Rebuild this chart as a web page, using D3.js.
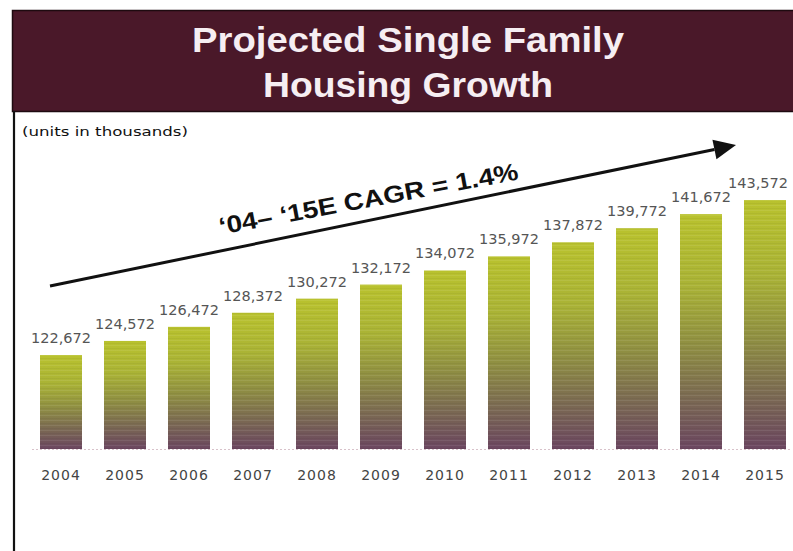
<!DOCTYPE html>
<html>
<head>
<meta charset="utf-8">
<script src="https://cdn.jsdelivr.net/npm/d3@7"></script>
<style>
  html, body { margin: 0; padding: 0; background: #fff; }
  svg { display: block; }
</style>
</head>
<body>
<svg id="chart" width="793" height="551"></svg>
<script>
// Chart data
const years = ["2004","2005","2006","2007","2008","2009","2010","2011","2012","2013","2014","2015"];
const units = [122672,124572,126472,128372,130272,132172,134072,135972,137872,139772,141672,143572];
const titleLines = ["Projected Single Family", "Housing Growth"];
const unitsNote = "(units in thousands)";
const cagrLabel = "\u201804\u2013 \u201815E CAGR = 1.4%";

const svg = d3.select("#chart");
const W = 793, H = 551;

// Title banner
svg.append("rect")
  .attr("x", 12.5).attr("y", 10.5).attr("width", W).attr("height", 101)
  .attr("fill", "#4a1829").attr("stroke", "#1e0a10").attr("stroke-width", 1.5);

const titleWidths = [432, 290];
svg.append("g").selectAll("text")
  .data(titleLines).join("text")
  .attr("x", 408).attr("y", (d, i) => 52 + i * 45)
  .attr("text-anchor", "middle")
  .attr("font-family", "'Liberation Sans', Arial, sans-serif")
  .attr("font-weight", "bold").attr("font-size", 35)
  .attr("textLength", (d, i) => titleWidths[i]).attr("lengthAdjust", "spacingAndGlyphs")
  .attr("fill", "#f6eef2")
  .text(d => d);

// Left frame rule
svg.append("line")
  .attr("x1", 14).attr("x2", 14).attr("y1", 111).attr("y2", H)
  .attr("stroke", "#111").attr("stroke-width", 2.2);

svg.append("text")
  .attr("x", 22).attr("y", 136)
  .attr("font-family", "'DejaVu Sans', sans-serif").attr("font-size", 11.5)
  .attr("textLength", 166).attr("lengthAdjust", "spacingAndGlyphs")
  .attr("fill", "#111")
  .text(unitsNote);

// Scales
const x = d3.scaleBand().domain(years).range([29, 797])
  .paddingInner(22 / 64).paddingOuter(11 / 64);
const y = d3.scaleLinear().domain([110000, 150000]).range([449, 152.35]);

// Bar fill: yellow-green fading to mauve, with faint horizontal banding
const defs = svg.append("defs");
const grad = defs.append("linearGradient").attr("id", "barGrad")
  .attr("x1", 0).attr("y1", 0).attr("x2", 0).attr("y2", 1);
[[0, "#b9c22e"], [0.3, "#aab336"], [0.55, "#909042"], [0.78, "#7b6a52"], [1, "#6b4660"]]
  .forEach(([o, c]) => grad.append("stop").attr("offset", o).attr("stop-color", c));

const stripes = defs.append("pattern").attr("id", "barStripes")
  .attr("patternUnits", "userSpaceOnUse").attr("width", 8).attr("height", 5);
stripes.append("rect").attr("x", 0).attr("y", 0).attr("width", 8).attr("height", 1)
  .attr("fill", "#ffffff").attr("opacity", 0.08);
stripes.append("rect").attr("x", 0).attr("y", 3).attr("width", 8).attr("height", 1)
  .attr("fill", "#000000").attr("opacity", 0.04);

const data = years.map((yr, i) => ({ yr, v: units[i] }));

// Baseline
svg.append("line")
  .attr("x1", 32).attr("x2", 790).attr("y1", y(110000) + 0.5).attr("y2", y(110000) + 0.5)
  .attr("stroke", "#d8c2ca").attr("stroke-width", 1.2).attr("stroke-dasharray", "2,2");

const bars = svg.append("g");
bars.selectAll("rect.bar").data(data).join("rect")
  .attr("class", "bar")
  .attr("x", d => x(d.yr)).attr("width", x.bandwidth())
  .attr("y", d => y(d.v)).attr("height", d => y(110000) - y(d.v))
  .attr("fill", "url(#barGrad)");
bars.selectAll("rect.stripe").data(data).join("rect")
  .attr("class", "stripe")
  .attr("x", d => x(d.yr)).attr("width", x.bandwidth())
  .attr("y", d => y(d.v)).attr("height", d => y(110000) - y(d.v))
  .attr("fill", "url(#barStripes)");

// Value labels, kept inside the right edge of the page
const fmt = d3.format(",");
const rightLimit = 788;
svg.append("g").selectAll("text").data(data).join("text")
  .attr("y", d => y(d.v) - 12)
  .attr("text-anchor", "middle")
  .attr("font-family", "'DejaVu Sans', sans-serif").attr("font-size", 14.5)
  .attr("fill", "#555")
  .text(d => fmt(d.v))
  .attr("x", function (d) {
    const cx = x(d.yr) + x.bandwidth() / 2;
    const half = this.getComputedTextLength() / 2;
    return Math.min(cx, rightLimit - half);
  });

// Category axis labels
const xAxis = svg.append("g")
  .attr("transform", `translate(0,${y(110000)})`)
  .call(d3.axisBottom(x).tickSize(0).tickPadding(21));
xAxis.select(".domain").remove();
xAxis.selectAll("text")
  .attr("font-family", "'DejaVu Sans', sans-serif").attr("font-size", 14)
  .attr("letter-spacing", 1).attr("fill", "#444");

// Growth arrow with CAGR annotation
const a0 = [50, 286], a1 = [736, 145];
const ang = Math.atan2(a1[1] - a0[1], a1[0] - a0[0]);
const headLen = 22, headHalf = 10;
const bx = a1[0] - headLen * Math.cos(ang), by = a1[1] - headLen * Math.sin(ang);
svg.append("line")
  .attr("x1", a0[0]).attr("y1", a0[1]).attr("x2", bx).attr("y2", by)
  .attr("stroke", "#111").attr("stroke-width", 3);
svg.append("path")
  .attr("d", d3.line()([
    a1,
    [bx + headHalf * Math.sin(ang), by - headHalf * Math.cos(ang)],
    [bx - headHalf * Math.sin(ang), by + headHalf * Math.cos(ang)]
  ]) + "Z")
  .attr("fill", "#111");

svg.append("text")
  .attr("transform", "translate(370,207) rotate(-10.5)")
  .attr("text-anchor", "middle")
  .attr("font-family", "'Liberation Sans', Arial, sans-serif")
  .attr("font-weight", "bold").attr("font-size", 24)
  .attr("textLength", 304).attr("lengthAdjust", "spacingAndGlyphs")
  .attr("fill", "#111")
  .text(cagrLabel);
</script>
</body>
</html>
